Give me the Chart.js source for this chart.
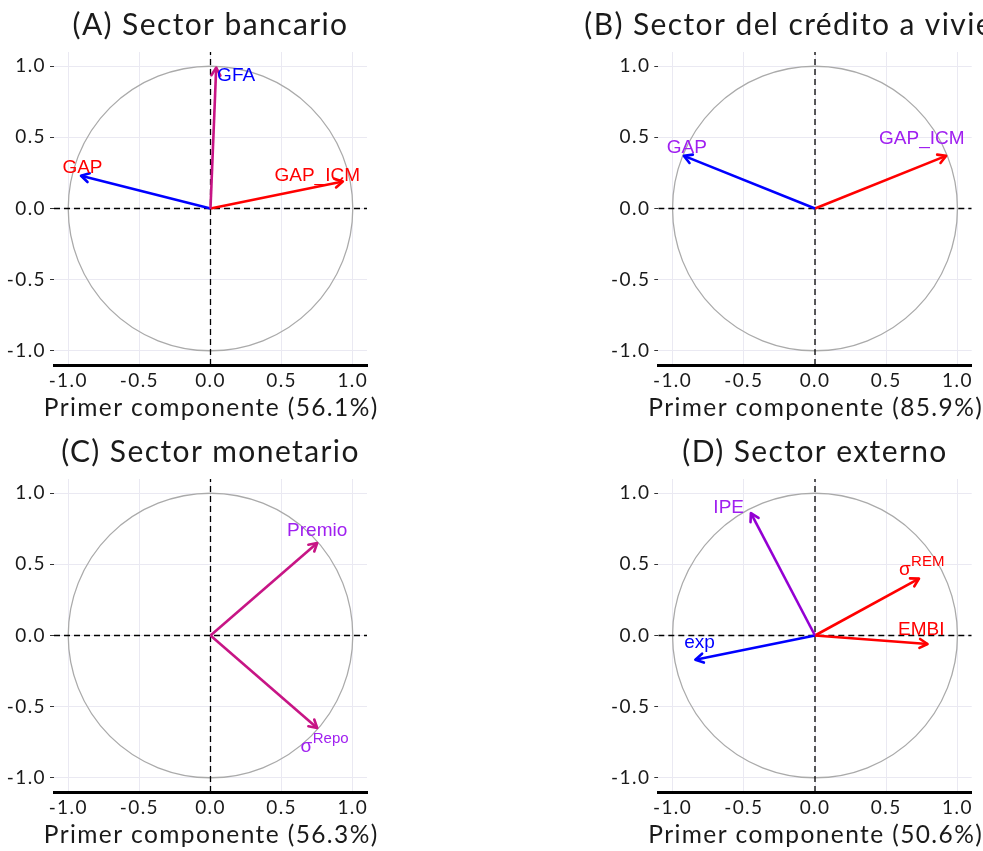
<!DOCTYPE html>
<html><head><meta charset="utf-8">
<script src="https://cdn.jsdelivr.net/npm/chart.js@4.4.1/dist/chart.umd.min.js"></script>
<style>
html,body{margin:0;padding:0;background:#fff;overflow:hidden;width:983px;height:851px;position:relative;}
canvas{position:absolute;}
</style></head><body>
<canvas id="ca" width="421" height="428" style="left:0px;top:0px"></canvas>
<canvas id="cb" width="510" height="428" style="left:560px;top:0px"></canvas>
<canvas id="cc" width="421" height="428" style="left:0px;top:427px"></canvas>
<canvas id="cd" width="510" height="428" style="left:560px;top:427px"></canvas>
<script>
// ---- shared axis data ----
const tickVals = [-1, -0.5, 0, 0.5, 1];
const tickLabels = ['-1.0', '-0.5', '0.0', '0.5', '1.0'];
const axisMin = -1.1, axisMax = 1.1;

// ---- Panel A ----
const titleA = '(A) Sector bancario';
const xTitleA = 'Primer componente (56.1%)';
const varsA = ['GFA', 'GAP', 'GAP_ICM'];
const supA = ['', '', ''];
const pc1A = [0.04, -0.91, 0.93];
const pc2A = [0.99, 0.23, 0.19];
const labXA = [0.18, -0.90, 0.75];
const labYA = [0.944, 0.30, 0.24];
const arrowColA = ['#C71585', '#0000FF', '#FF0000'];
const labColA = ['#0000FF', '#FF0000', '#FF0000'];

// ---- Panel B ----
const titleB = '(B) Sector del crédito a vivienda';
const xTitleB = 'Primer componente (85.9%)';
const varsB = ['GAP', 'GAP_ICM'];
const supB = ['', ''];
const pc1B = [-0.92, 0.92];
const pc2B = [0.37, 0.37];
const labXB = [-0.90, 0.75];
const labYB = [0.44, 0.50];
const arrowColB = ['#0000FF', '#FF0000'];
const labColB = ['#A020F0', '#A020F0'];

// ---- Panel C ----
const titleC = '(C) Sector monetario';
const xTitleC = 'Primer componente (56.3%)';
const varsC = ['Premio', 'σ'];
const supC = ['', 'Repo'];
const pc1C = [0.75, 0.75];
const pc2C = [0.65, -0.65];
const labXC = [0.75, 0.80];
const labYC = [0.744, -0.774];
const arrowColC = ['#C71585', '#C71585'];
const labColC = ['#A020F0', '#A020F0'];

// ---- Panel D ----
const titleD = '(D) Sector externo';
const xTitleD = 'Primer componente (50.6%)';
const varsD = ['IPE', 'σ', 'EMBI', 'exp'];
const supD = ['', 'REM', '', ''];
const pc1D = [-0.45, 0.73, 0.79, -0.84];
const pc2D = [0.86, 0.40, -0.06, -0.17];
const labXD = [-0.606, 0.747, 0.746, -0.81];
const labYD = [0.907, 0.473, 0.05, -0.037];
const arrowColD = ['#9400D3', '#FF0000', '#FF0000', '#0000FF'];
const labColD = ['#A020F0', '#FF0000', '#FF0000', '#0000FF'];

// ---- styles ----
const FONT = 'Lato, "Open Sans", sans-serif';
const LABFONT = '"Liberation Sans", Arial, sans-serif';
const GRID = '#EAE9F2';
const TXT = '#1a1a1a';
const LS = '1.4px';
const LAB_SIZE = 19, SUP_SIZE = 15;
const XTITLE_SIZE = 24.5;
const TICK_SIZE = 19;

const spacingPlugin = {
  id: 'spacing',
  beforeLayout(chart) { chart.ctx.letterSpacing = LS; },
  beforeDraw(chart) { chart.ctx.letterSpacing = LS; }
};

const pcaPlugin = {
  id: 'pca',
  beforeDatasetsDraw(chart) {
    const {ctx, scales: {x, y}} = chart;
    const cx = x.getPixelForValue(0), cy = y.getPixelForValue(0);
    const rx = x.getPixelForValue(1) - cx, ry = cy - y.getPixelForValue(1);
    ctx.save();
    ctx.beginPath();
    ctx.ellipse(cx, cy, rx, ry, 0, 0, Math.PI * 2);
    ctx.strokeStyle = '#AAAAAA';
    ctx.lineWidth = 1.3;
    ctx.stroke();
    ctx.restore();
  },
  afterDatasetsDraw(chart) {
    const {ctx, scales: {x, y}} = chart;
    const L = 9, A = Math.PI / 6;
    chart.data.datasets.forEach((ds, i) => {
      if (!ds.isArrow) return;
      const meta = chart.getDatasetMeta(i);
      const a = meta.data[0], b = meta.data[1];
      const ang = Math.atan2(b.y - a.y, b.x - a.x);
      ctx.save();
      ctx.strokeStyle = ds.borderColor;
      ctx.lineWidth = ds.borderWidth;
      ctx.lineCap = 'round';
      ctx.lineJoin = 'round';
      ctx.beginPath();
      ctx.moveTo(b.x - L * Math.cos(ang - A), b.y - L * Math.sin(ang - A));
      ctx.lineTo(b.x, b.y);
      ctx.lineTo(b.x - L * Math.cos(ang + A), b.y - L * Math.sin(ang + A));
      ctx.stroke();
      ctx.restore();
    });
    const labs = chart.config.options.plugins.pca.labels;
    labs.forEach(l => {
      const px = x.getPixelForValue(l.x), py = y.getPixelForValue(l.y);
      ctx.save();
      ctx.letterSpacing = '0px';
      ctx.textBaseline = 'alphabetic';
      ctx.textAlign = 'left';
      ctx.font = LAB_SIZE + 'px ' + LABFONT;
      const wb = ctx.measureText(l.text).width;
      let ws = 0;
      if (l.sup) { ctx.font = SUP_SIZE + 'px ' + LABFONT; ws = ctx.measureText(l.sup).width; }
      const left = px - (wb + ws) / 2;
      const base = py + LAB_SIZE * 0.358;
      ctx.fillStyle = l.color;
      ctx.font = LAB_SIZE + 'px ' + LABFONT;
      ctx.fillText(l.text, left, base);
      if (l.sup) {
        ctx.font = SUP_SIZE + 'px ' + LABFONT;
        ctx.fillText(l.sup, left + wb + 0.5, base - 9.5);
      }
      ctx.restore();
    });
  },
  afterDraw(chart) {
    // x-axis title (drawn here so it is not compressed to the axis width)
    const {ctx, scales: {x}} = chart;
    const t = chart.config.options.plugins.pca.xTitle;
    ctx.save();
    ctx.letterSpacing = LS;
    ctx.font = XTITLE_SIZE + 'px ' + FONT;
    ctx.fillStyle = TXT;
    ctx.textAlign = 'center';
    ctx.textBaseline = 'middle';
    ctx.fillText(t, (x.left + x.right) / 2 + 0.7, x.bottom - 19.5);
    ctx.restore();
  }
};

function makeChart(id, title, xTitle, vars, sup, pc1, pc2, labX, labY, arrowCol, labCol, padL, padR) {
  const datasets = [
    {data: [{x: axisMin, y: 0}, {x: axisMax, y: 0}], borderColor: '#000', borderWidth: 1.3, borderDash: [6, 4], pointRadius: 0, showLine: true, order: 10},
    {data: [{x: 0, y: axisMin}, {x: 0, y: axisMax}], borderColor: '#000', borderWidth: 1.3, borderDash: [6, 4], pointRadius: 0, showLine: true, order: 10}
  ];
  vars.forEach((v, i) => {
    datasets.push({label: v + sup[i], data: [{x: 0, y: 0}, {x: pc1[i], y: pc2[i]}],
      borderColor: arrowCol[i], borderWidth: 2.6, pointRadius: 0, showLine: true, isArrow: true, order: 1});
  });
  const labels = vars.map((v, i) => ({text: v, sup: sup[i], x: labX[i], y: labY[i], color: labCol[i]}));
  const setTicks = s => { s.ticks = tickVals.map(v => ({value: v})); };
  const fmt = (v) => tickLabels[tickVals.indexOf(v)] ?? '';
  return new Chart(document.getElementById(id), {
    type: 'scatter',
    data: {datasets},
    plugins: [spacingPlugin, pcaPlugin],
    options: {
      responsive: false, animation: false, devicePixelRatio: 1,
      layout: {padding: 0},
      plugins: {
        legend: {display: false}, tooltip: {enabled: false},
        title: {display: true, text: title, color: TXT, font: {family: FONT, size: 30, weight: 'normal'}, padding: {top: 7, bottom: 9}},
        pca: {labels, xTitle}
      },
      scales: {
        x: {type: 'linear', min: axisMin, max: axisMax, afterBuildTicks: setTicks,
          afterFit: s => { s.height = 63; },
          grid: {color: GRID, lineWidth: 1, drawTicks: false},
          border: {display: true, color: '#000', width: 3},
          ticks: {padding: 4, color: TXT, font: {family: FONT, size: TICK_SIZE}, callback: fmt, maxRotation: 0, autoSkip: false},
          title: {display: false}
        },
        y: {type: 'linear', position: 'left', min: axisMin, max: axisMax, afterBuildTicks: setTicks,
          afterFit: s => { s.width = 54 + padL; },
          grid: {color: GRID, lineWidth: 1, drawTicks: true, tickLength: 4, tickColor: '#333', tickWidth: 1},
          border: {display: false},
          ticks: {padding: 4, color: TXT, font: {family: FONT, size: TICK_SIZE}, callback: fmt, autoSkip: false}
        },
        yr: {type: 'linear', position: 'right', min: axisMin, max: axisMax,
          afterFit: s => { s.width = padR; },
          grid: {display: false, drawTicks: false}, border: {display: false},
          ticks: {display: false}
        }
      }
    }
  });
}

makeChart('ca', titleA, xTitleA, varsA, supA, pc1A, pc2A, labXA, labYA, arrowColA, labColA, 0, 54);
makeChart('cb', titleB, xTitleB, varsB, supB, pc1B, pc2B, labXB, labYB, arrowColB, labColB, 44.3, 98.3);
makeChart('cc', titleC, xTitleC, varsC, supC, pc1C, pc2C, labXC, labYC, arrowColC, labColC, 0, 54);
makeChart('cd', titleD, xTitleD, varsD, supD, pc1D, pc2D, labXD, labYD, arrowColD, labColD, 44.3, 98.3);
</script>
</body></html>
